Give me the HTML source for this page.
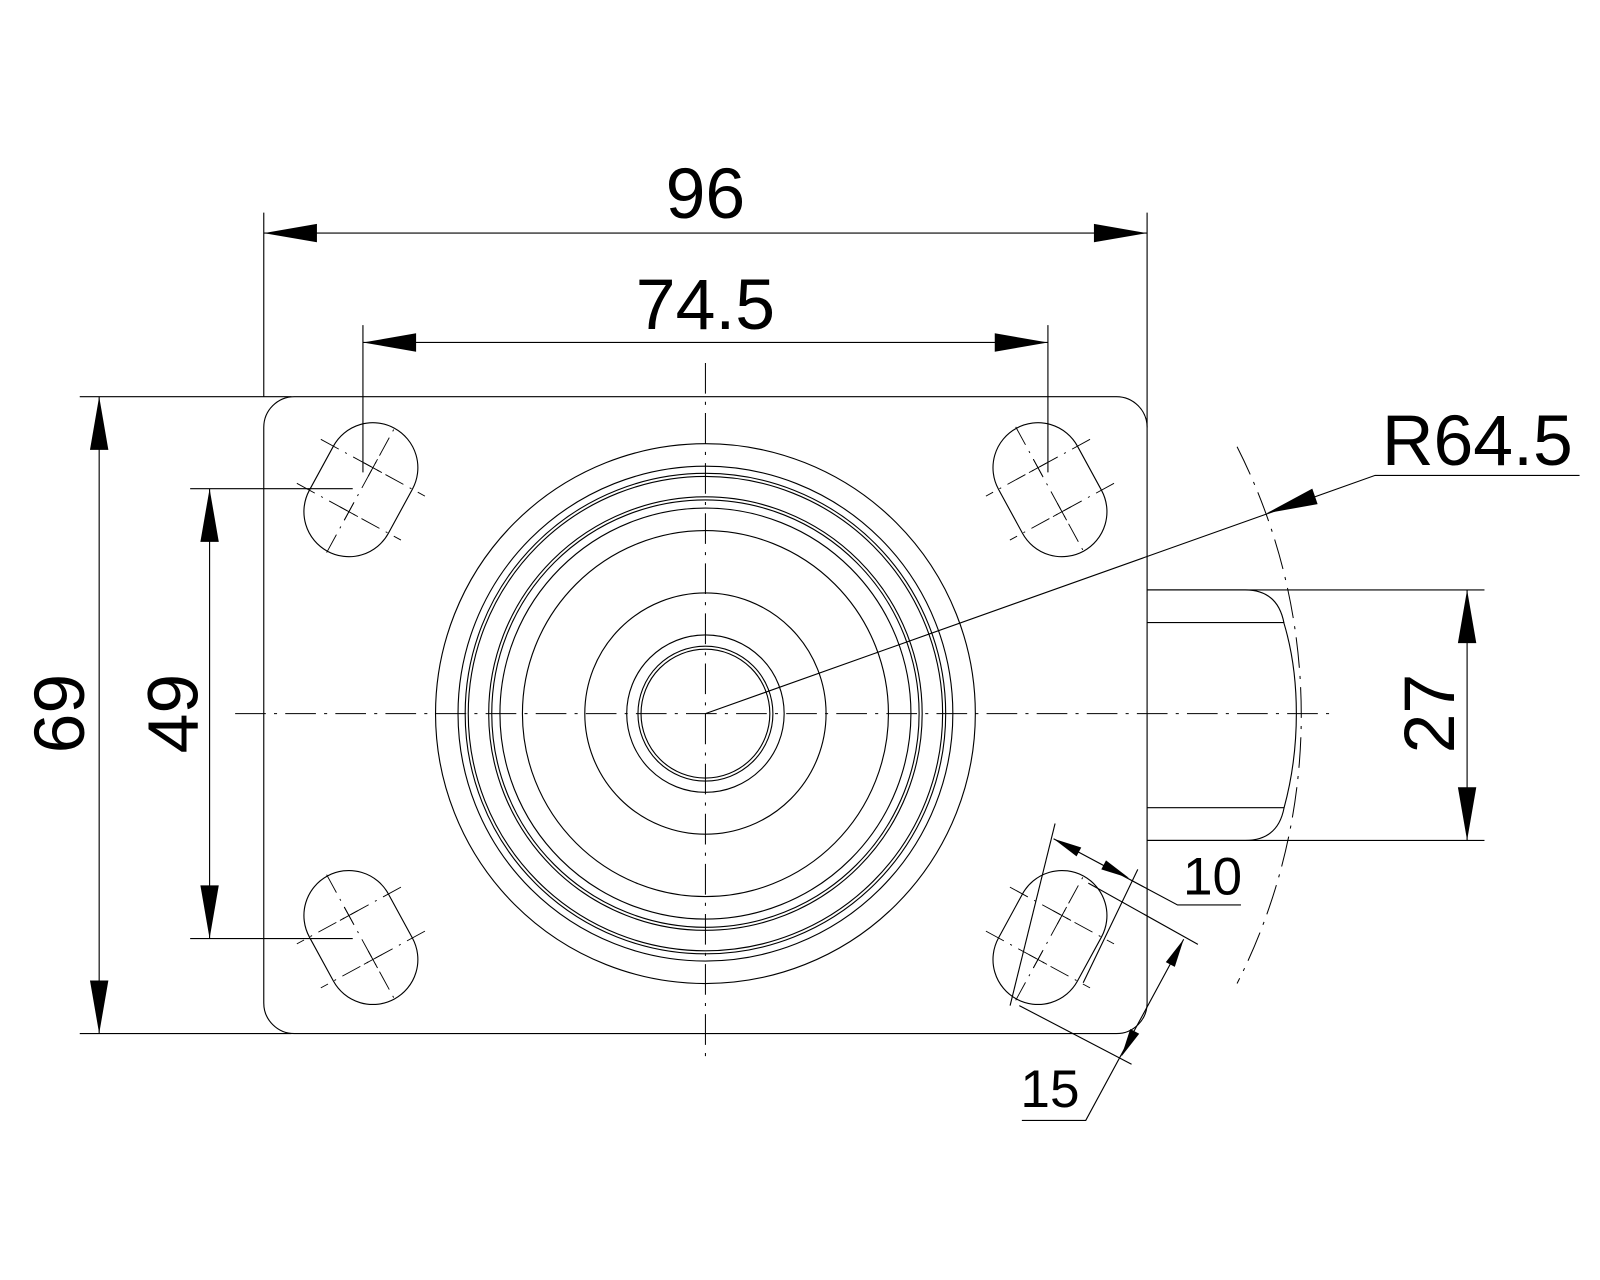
<!DOCTYPE html>
<html><head><meta charset="utf-8"><style>
html,body{margin:0;padding:0;background:#fff;}
svg{display:block;}
text{font-family:"Liberation Sans",sans-serif;fill:#000;}
</style></head><body>
<svg width="1600" height="1280" viewBox="0 0 1565 1252" xmlns="http://www.w3.org/2000/svg">
<rect x="0" y="0" width="1565" height="1252" fill="#fff"/>
<g fill="none" stroke="#000" stroke-width="1.1">
<!-- plate -->
<rect x="258" y="388" width="864" height="623" rx="30" ry="30"/>
<!-- circles -->
<g>
<circle cx="690" cy="698" r="264"/>
<circle cx="690" cy="698" r="242"/>
<circle cx="690" cy="698" r="235"/>
<circle cx="690" cy="698" r="232"/>
<circle cx="690" cy="698" r="212"/>
<circle cx="690" cy="698" r="209"/>
<circle cx="690" cy="698" r="201"/>
<circle cx="690" cy="698" r="179"/>
<circle cx="690" cy="698" r="118"/>
<circle cx="690" cy="698" r="77"/>
<circle cx="690" cy="698" r="66"/>
<circle cx="690" cy="698" r="63"/>
</g>
<!-- centerlines -->
<g stroke-dasharray="30 8 3 8" stroke-width="1">
<line x1="230" y1="698" x2="1300" y2="698"/>
<line x1="690" y1="355" x2="690" y2="1040"/>
<path d="M1210,437 A580,580 0 0 1 1210,962"/>
</g>
<!-- slots -->
<defs>
<g id="slot">
<rect x="-68.5" y="-44" width="137" height="88" rx="44" ry="44"/>
<g stroke-width="0.9" stroke-dasharray="20 7 2 7">
<line x1="-70" y1="0" x2="70" y2="0"/>
<line x1="-24.5" y1="-58" x2="-24.5" y2="58"/>
<line x1="24.5" y1="-58" x2="24.5" y2="58"/>
</g>
<g stroke-width="0.9">
<line x1="-34" y1="0" x2="-15" y2="0"/>
<line x1="15" y1="0" x2="34" y2="0"/>
<line x1="-24.5" y1="-10" x2="-24.5" y2="10"/>
<line x1="24.5" y1="-10" x2="24.5" y2="10"/>
</g>
</g>
</defs>
<use href="#slot" transform="translate(353,479) rotate(-61.4)"/>
<use href="#slot" transform="translate(1027,479) rotate(61.4)"/>
<use href="#slot" transform="translate(353,917) rotate(61.4)"/>
<use href="#slot" transform="translate(1027,917) rotate(-61.4)"/>
<!-- wheel -->
<path d="M1122,577 H1218 Q1250,577 1256,610 Q1268,650 1268,698 Q1268,746 1256,790 Q1250,822 1218,822 H1122"/>
<line x1="1122" y1="609" x2="1256" y2="609"/>
<line x1="1122" y1="790" x2="1256" y2="790"/>
<!-- dimension: 96 -->
<line x1="258" y1="208" x2="258" y2="388"/>
<line x1="1122" y1="208" x2="1122" y2="418"/>
<line x1="258" y1="228" x2="1122" y2="228"/>
<!-- 74.5 -->
<line x1="355" y1="318" x2="355" y2="462"/>
<line x1="1025" y1="318" x2="1025" y2="462"/>
<line x1="355" y1="335" x2="1025" y2="335"/>
<!-- 69 -->
<line x1="78" y1="388" x2="285" y2="388"/>
<line x1="78" y1="1011" x2="285" y2="1011"/>
<line x1="97" y1="388" x2="97" y2="1011"/>
<!-- 49 -->
<line x1="186" y1="478" x2="345" y2="478"/>
<line x1="186" y1="918" x2="345" y2="918"/>
<line x1="205" y1="478" x2="205" y2="918"/>
<!-- 27 -->
<line x1="1122" y1="577" x2="1452" y2="577"/>
<line x1="1122" y1="822" x2="1452" y2="822"/>
<line x1="1435" y1="577" x2="1435" y2="822"/>
<!-- R64.5 leader -->
<polyline points="690,698 1345,465 1545,465"/>
<!-- 10 -->
<line x1="1032" y1="805.5" x2="988" y2="983.6"/>
<line x1="1112.9" y1="850.4" x2="1059.5" y2="961.2"/>
<polyline points="1030.5,820.4 1151.8,885.2 1213.8,885.2"/>
<!-- 15 -->
<line x1="1064.5" y1="863.8" x2="1171.7" y2="923.7"/>
<line x1="997" y1="983.6" x2="1106.8" y2="1041"/>
<polyline points="1157.8,918.7 1062,1095.9 999.5,1095.9"/>
</g>
<g fill="#000" stroke="none">
<polygon points="258,228 310,219 310,237"/>
<polygon points="1122,228 1070,219 1070,237"/>
<polygon points="355,335 407,326 407,344"/>
<polygon points="1025,335 973,326 973,344"/>
<polygon points="97,388 88,440 106,440"/>
<polygon points="97,1011 88,959 106,959"/>
<polygon points="205,478 196,530 214,530"/>
<polygon points="205,918 196,866 214,866"/>
<polygon points="1435,577 1426,629 1444,629"/>
<polygon points="1435,822 1426,770 1444,770"/>
<polygon points="1239,502 1288.8,493.1 1283.6,477.9"/>
<polygon points="1030.5,820.4 1057.6,828.9 1053,837.7"/>
<polygon points="1104.3,858.8 1081.8,841.5 1077.2,850.3"/>
<polygon points="1157.8,918.7 1149.1,945.7 1140.3,941.1"/>
<polygon points="1096.8,1033.5 1114.3,1011.1 1105.5,1006.5"/>
</g>
<g font-size="70">
<text x="690" y="213" text-anchor="middle">96</text>
<text x="690" y="322" text-anchor="middle">74.5</text>
<text x="1445" y="455" text-anchor="middle">R64.5</text>
<text x="82" y="698" text-anchor="middle" transform="rotate(-90 82 698)">69</text>
<text x="193" y="698" text-anchor="middle" transform="rotate(-90 193 698)">49</text>
<text x="1422" y="698" text-anchor="middle" transform="rotate(-90 1422 698)">27</text>
</g>
<g font-size="52">
<text x="1186" y="875" text-anchor="middle">10</text>
<text x="1027" y="1083" text-anchor="middle">15</text>
</g>
</svg>
</body></html>
